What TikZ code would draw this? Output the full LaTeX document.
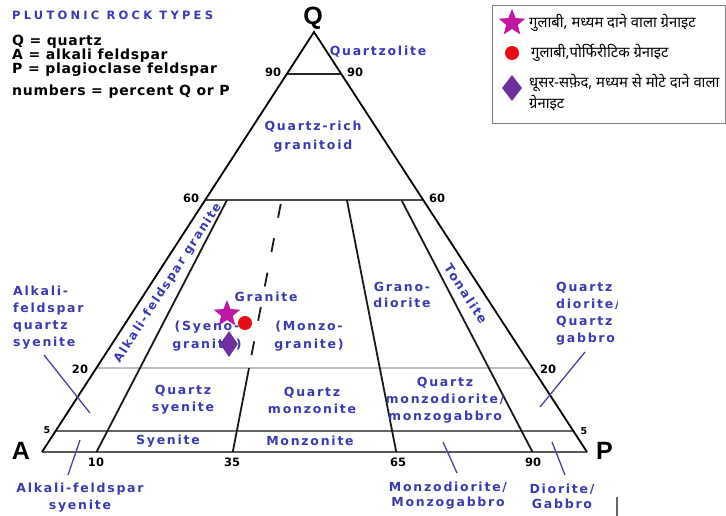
\documentclass[tikz,border=0pt]{standalone}
\usepackage{fontspec}
\setmainfont{Liberation Sans}
\newfontfamily\labfont[LetterSpace=14]{DejaVu Sans}
\newfontfamily\titlefont[LetterSpace=28]{DejaVu Sans}
\newfontfamily\keyfont[LetterSpace=5]{DejaVu Sans}
\newfontfamily\numfont{DejaVu Sans}
\newfontfamily\hindi[Script=Devanagari]{Noto Sans}
\usetikzlibrary{calc,shapes.geometric}
\definecolor{labblue}{RGB}{58,58,178}
\definecolor{leadblue}{RGB}{70,70,160}
\definecolor{starmag}{RGB}{190,22,165}
\definecolor{dotred}{RGB}{232,12,20}
\definecolor{dpurple}{RGB}{110,46,160}
\tikzset{
  blab/.style={font=\labfont\bfseries\fontsize{12.5}{17}\selectfont, text=labblue, align=center, inner sep=0pt},
  num/.style={font=\numfont\bfseries\fontsize{11.5}{14}\selectfont, inner sep=0pt},
  smallnum/.style={font=\numfont\bfseries\fontsize{9.5}{12}\selectfont, inner sep=0pt},
  big/.style={font=\bfseries\fontsize{25}{28}\selectfont, inner sep=0pt},
  key/.style={font=\keyfont\bfseries\fontsize{14}{15}\selectfont, inner sep=0pt, anchor=west},
  leader/.style={draw=leadblue, line width=1.3pt},
  hin/.style={font=\hindi\fontsize{14.8}{21}\selectfont, inner sep=0pt, anchor=west, align=left},
  side/.style={draw=black, line width=1.8pt},
  divline/.style={draw=black!90, line width=1.8pt},
}
\begin{document}
\begin{tikzpicture}[x=1pt,y=-1pt]
\useasboundingbox (0,0) rectangle (726,516);
\fill[white] (0,0) rectangle (726,516);

% corners
\coordinate (Q) at (314,32);
\coordinate (A) at (42,452);
\coordinate (P) at (587,452);

% horizontal levels
\coordinate (L90) at ($(A)!0.9!(Q)$);  \coordinate (R90) at ($(P)!0.9!(Q)$);
\coordinate (L60) at ($(A)!0.6!(Q)$);  \coordinate (R60) at ($(P)!0.6!(Q)$);
\coordinate (L20) at ($(A)!0.2!(Q)$);  \coordinate (R20) at ($(P)!0.2!(Q)$);
\coordinate (L5)  at ($(A)!0.05!(Q)$); \coordinate (R5)  at ($(P)!0.05!(Q)$);

% base points
\coordinate (B10) at ($(A)!0.10!(P)$);
\coordinate (B35) at ($(A)!0.35!(P)$);
\coordinate (B65) at ($(A)!0.65!(P)$);
\coordinate (B90) at ($(A)!0.90!(P)$);
% points on the 60 line
\coordinate (T10) at ($(Q)!0.4!(B10)$);
\coordinate (T35) at ($(Q)!0.4!(B35)$);
\coordinate (T65) at ($(Q)!0.4!(B65)$);
\coordinate (T90) at ($(Q)!0.4!(B90)$);
\coordinate (M35) at ($(Q)!0.8!(B35)$);

% horizontal lines
\draw[draw=black!85, line width=1.6pt] (L90) -- (R90);
\draw[draw=black!70, line width=1.6pt] (L60) -- (R60);
\draw[draw=black!25, line width=1.4pt] (L20) -- (R20);
\draw[draw=black!60, line width=1.6pt] (L5) -- (R5);
\draw[draw=black!65, line width=1.8pt] (A) -- (P);

% triangle sides
\draw[side] (A) -- (Q) -- (P);

% dividing lines
\draw[divline] (T10) -- (B10);
\draw[divline] (T65) -- (B65);
\draw[divline] (T90) -- (B90);
\draw[divline] (M35) -- (B35);
\draw[divline, dash pattern=on 14pt off 21pt, dash phase=31pt] (T35) -- (M35);

% key (top left)
\node[key, font=\titlefont\bfseries\fontsize{11.5}{14}\selectfont, text=labblue] (title) at (12,15) {PLUTONIC ROCK TYPES};
\node[key] (kq) at (12,42) {Q = quartz};
\node[key] (ka) at (12,56) {A = alkali feldspar};
\node[key] (kp) at (12,70) {P = plagioclase feldspar};
\node[key] (kn) at (12,92) {numbers = percent Q or P};

% corner letters
\node[big] (qlab) at (313,18) {Q};
\node[big] (alab) at (21,451) {A};

% numbers
\node[num] (n90l) at (273,72) {90};
\node[num] (n90r) at (355,72) {90};
\node[num] (n60l) at (191,198) {60};
\node[num] (n60r) at (437,198) {60};
\node[num] (n20l) at (80,369) {20};
\node[num] (n20r) at (548,369) {20};
\node[smallnum] (n5l) at (47,430) {5};
\node[smallnum] (n5r) at (584,431) {5};
\node[num] (b10) at (96,462) {10};
\node[num] (b35) at (232,462) {35};
\node[num] (b65) at (398,462) {65};
\node[num] (b90) at (533,462) {90};

% field labels
\node[blab] (quartzolite) at (378,52) {Quartzolite};
\node[blab, font=\labfont\bfseries\fontsize{12.5}{19}\selectfont] (qrich) at (313,137) {Quartz-rich\\granitoid};
\node[blab, rotate=57.07, font=\labfont\bfseries\fontsize{12}{14}\selectfont] (afgran) at (168,283) {Alkali-feldspar granite};
\node[blab] (granite) at (266,297) {Granite};
\node[blab, font=\labfont\bfseries\fontsize{12.5}{18}\selectfont] (syeno) at (207,336) {(Syeno-\\granite)};
\node[blab, font=\labfont\bfseries\fontsize{12.5}{18}\selectfont] (monzo) at (309,336) {(Monzo-\\granite)};
\node[blab, font=\labfont\bfseries\fontsize{12.5}{16}\selectfont] (grano) at (402,295) {Grano-\\diorite};
\node[blab, rotate=-57.07] (tonalite) at (466,294) {Tonalite};
\node[blab] (qmd) at (445,400) {Quartz\\monzodiorite/\\monzogabbro};
\node[blab] (qsy) at (183,400) {Quartz\\syenite};
\node[blab] (qmz) at (312,400) {Quartz\\monzonite};
\node[blab] (sy) at (168,441) {Syenite};
\node[blab] (mz) at (310,441) {Monzonite};

% outside labels
\node[blab, align=left, anchor=west] (afqs) at (13,318) {Alkali-\\feldspar\\quartz\\syenite};
\node[blab] (afsy) at (80,498) {Alkali-feldspar\\syenite};
\node[blab, font=\labfont\bfseries\fontsize{12.5}{15}\selectfont] (mdmg) at (448,496) {Monzodiorite/\\Monzogabbro};
\node[blab, font=\labfont\bfseries\fontsize{12.5}{15}\selectfont] (dg) at (562,496) {Diorite/\\Gabbro};

\begin{scope}
  \clip (0,0) rectangle (617,516);
  \node[blab, align=left, anchor=west] (qdqg) at (556,314) {Quartz\\diorite/\\Quartz\\gabbro};
  \node[big, anchor=west] (plab) at (596,451) {P};
\end{scope}
\coordinate (cut1) at (617,497);
\coordinate (cut2) at (617,516);
\draw[draw=black!60, line width=1.5pt] (cut1) -- (cut2);

% leader lines
\coordinate (la1) at (44,355); \coordinate (la2) at (90,413);
\coordinate (lb1) at (585,352); \coordinate (lb2) at (540,407);
\coordinate (lc1) at (80,440); \coordinate (lc2) at (68,475);
\coordinate (ld1) at (443,442); \coordinate (ld2) at (457,473);
\coordinate (le1) at (552,442); \coordinate (le2) at (565,475);
\draw[leader] (la1) -- (la2);
\draw[leader] (lb1) -- (lb2);
\draw[leader] (lc1) -- (lc2);
\draw[leader] (ld1) -- (ld2);
\draw[leader] (le1) -- (le2);

% sample symbols in the diagram
\node[star, star points=5, star point ratio=2.3, fill=starmag, minimum size=28pt, inner sep=0pt] (s1) at (227,314) {};
\node[circle, fill=dotred, minimum size=14pt, inner sep=0pt] (c1) at (245,323) {};
\node[diamond, fill=dpurple, minimum width=18pt, minimum height=26pt, inner sep=0pt] (d1) at (229,344) {};

% legend box
\node[draw=black!50, line width=1.2pt, minimum width=233pt, minimum height=118pt, anchor=north west, inner sep=0pt] (legend) at (492,5) {};
\node[star, star points=5, star point ratio=2.3, fill=starmag, minimum size=28pt, inner sep=0pt] (s2) at (512,23) {};
\node[circle, fill=dotred, minimum size=14pt, inner sep=0pt] (c2) at (512,53) {};
\node[diamond, fill=dpurple, minimum width=20pt, minimum height=26pt, inner sep=0pt] (d2) at (512,88) {};
\node[hin] (h1) at (529,23) {गुलाबी, मध्यम दाने वाला ग्रेनाइट};
\node[hin] (h2) at (531,53) {गुलाबी,पोर्फिरीटिक ग्रेनाइट};
\node[hin] (h3) at (529,93) {धूसर-सफ़ेद, मध्यम से मोटे दाने वाला\\ग्रेनाइट};
\end{tikzpicture}
\end{document}
